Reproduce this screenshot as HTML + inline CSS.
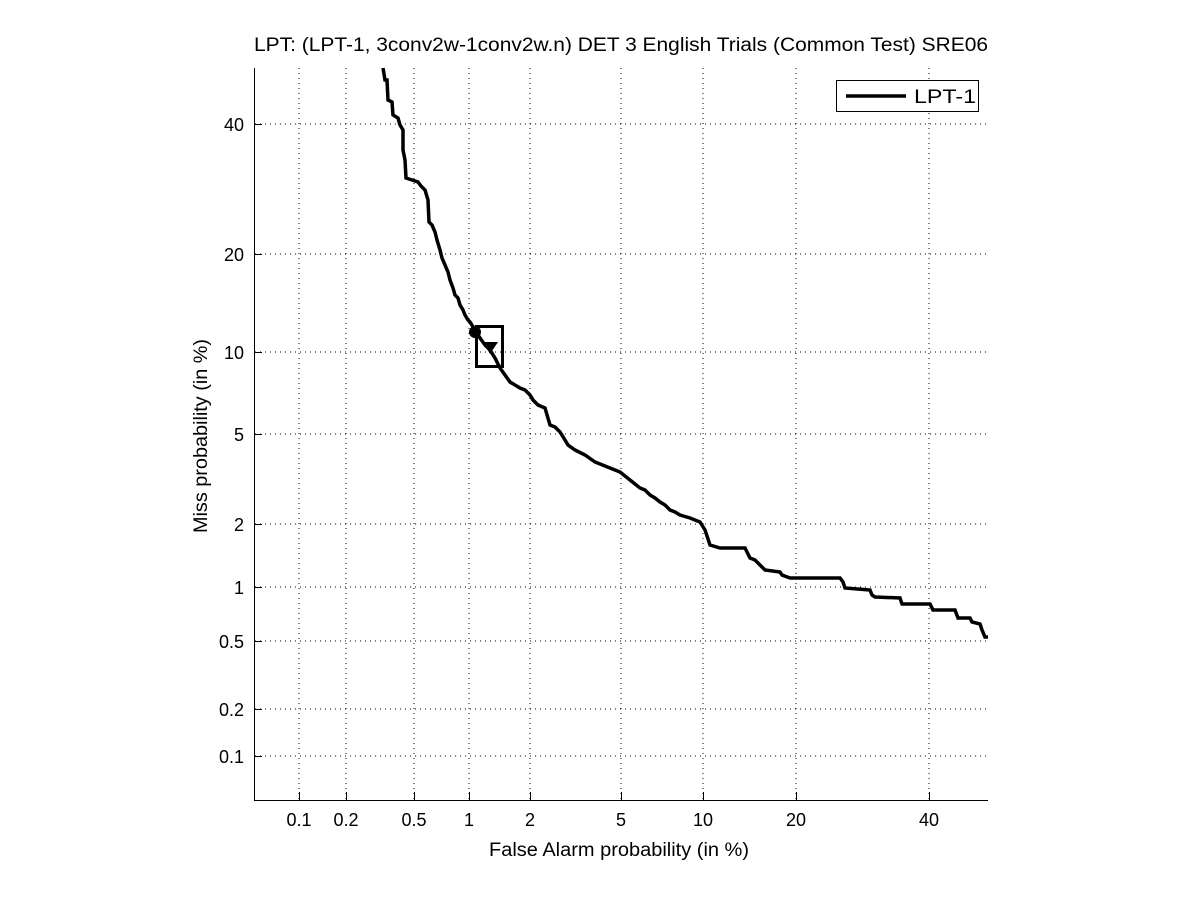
<!DOCTYPE html>
<html><head><meta charset="utf-8"><style>body{margin:0;background:#fff}svg{display:block}text{font-family:"Liberation Sans",sans-serif;fill:#000}</style></head>
<body>
<svg width="1201" height="900" viewBox="0 0 1201 900">
<rect width="1201" height="900" fill="#fff"/>
<g stroke="#000" stroke-width="1" stroke-dasharray="1,4">
<line x1="299" y1="68" x2="299" y2="800"/><line x1="346" y1="68" x2="346" y2="800"/><line x1="414" y1="68" x2="414" y2="800"/><line x1="469" y1="68" x2="469" y2="800"/><line x1="530" y1="68" x2="530" y2="800"/><line x1="621" y1="68" x2="621" y2="800"/><line x1="703" y1="68" x2="703" y2="800"/><line x1="796" y1="68" x2="796" y2="800"/><line x1="929" y1="68" x2="929" y2="800"/>
<line x1="255" y1="124" x2="988" y2="124"/><line x1="255" y1="254" x2="988" y2="254"/><line x1="255" y1="352" x2="988" y2="352"/><line x1="255" y1="434" x2="988" y2="434"/><line x1="255" y1="524" x2="988" y2="524"/><line x1="255" y1="587" x2="988" y2="587"/><line x1="255" y1="641" x2="988" y2="641"/><line x1="255" y1="709" x2="988" y2="709"/><line x1="255" y1="756" x2="988" y2="756"/>
</g>
<g stroke="#000" stroke-width="1">
<line x1="254.5" y1="68" x2="254.5" y2="800.5"/><line x1="254" y1="800.5" x2="988" y2="800.5"/>
<line x1="254" y1="124.5" x2="262" y2="124.5"/><line x1="254" y1="254.5" x2="262" y2="254.5"/><line x1="254" y1="352.5" x2="262" y2="352.5"/><line x1="254" y1="434.5" x2="262" y2="434.5"/><line x1="254" y1="524.5" x2="262" y2="524.5"/><line x1="254" y1="587.5" x2="262" y2="587.5"/><line x1="254" y1="641.5" x2="262" y2="641.5"/><line x1="254" y1="709.5" x2="262" y2="709.5"/><line x1="254" y1="756.5" x2="262" y2="756.5"/>
<line x1="299.5" y1="800" x2="299.5" y2="792"/><line x1="346.5" y1="800" x2="346.5" y2="792"/><line x1="414.5" y1="800" x2="414.5" y2="792"/><line x1="469.5" y1="800" x2="469.5" y2="792"/><line x1="530.5" y1="800" x2="530.5" y2="792"/><line x1="621.5" y1="800" x2="621.5" y2="792"/><line x1="703.5" y1="800" x2="703.5" y2="792"/><line x1="796.5" y1="800" x2="796.5" y2="792"/><line x1="929.5" y1="800" x2="929.5" y2="792"/>
</g>
<g font-size="18" text-anchor="end">
<text x="244" y="131">40</text><text x="244" y="261">20</text><text x="244" y="359">10</text><text x="244" y="441">5</text><text x="244" y="531">2</text><text x="244" y="594">1</text><text x="244" y="648">0.5</text><text x="244" y="716">0.2</text><text x="244" y="763">0.1</text>
</g>
<g font-size="18" text-anchor="middle">
<text x="299" y="826">0.1</text><text x="346" y="826">0.2</text><text x="414" y="826">0.5</text><text x="469" y="826">1</text><text x="530" y="826">2</text><text x="621" y="826">5</text><text x="703" y="826">10</text><text x="796" y="826">20</text><text x="929" y="826">40</text>
</g>
<text x="254" y="51" font-size="19" textLength="734" lengthAdjust="spacingAndGlyphs">LPT: (LPT-1, 3conv2w-1conv2w.n) DET 3 English Trials (Common Test) SRE06</text>
<text x="489" y="856" font-size="19" textLength="260" lengthAdjust="spacingAndGlyphs">False Alarm probability (in %)</text>
<text transform="translate(207,533) rotate(-90)" font-size="19" textLength="194" lengthAdjust="spacingAndGlyphs">Miss probability (in %)</text>
<polyline fill="none" stroke="#000" stroke-width="3.5" stroke-linejoin="miter" points="383,68 385,80 387,80 388,100 392,102 393,115 398,118 400,125 403,130 403,150 405,160 406,178 412,180 418,182 421,186 425,190 428,200 429,222 432,225 435,232 437,240 440,250 442,258 445,265 448,272 450,280 453,288 455,295 458,298 460,305 463,310 465,315 468,320 470,322 475,330 480,338 485,345 490,350 495,358 500,368 505,375 510,382 515,385 520,388 525,390 530,395 533,400 538,405 545,408 550,425 555,427 560,432 565,440 568,445 575,450 585,455 595,462 605,466 615,470 620,472 625,476 630,480 635,484 640,488 645,490 650,495 655,498 660,502 665,505 670,510 675,512 680,515 690,518 700,522 705,530 710,545 720,548 745,548 747,552 750,558 755,560 760,565 765,570 780,572 782,575 790,578 840,578 843,582 845,588 870,590 872,595 875,597 900,598 902,604 930,604 933,610 955,610 958,618 970,618 972,622 980,624 982,630 985,637 988,637"/>
<circle cx="475" cy="332" r="6" fill="#000"/>
<polygon points="483,342 498,342 490,354" fill="#000"/>
<rect x="476.5" y="326.5" width="26" height="40" fill="none" stroke="#000" stroke-width="3"/>
<rect x="836.5" y="80.5" width="142" height="31" fill="#fff" stroke="#000" stroke-width="1"/>
<line x1="846" y1="96" x2="906" y2="96" stroke="#000" stroke-width="3.5"/>
<text x="914" y="103" font-size="19" textLength="62" lengthAdjust="spacingAndGlyphs">LPT-1</text>
</svg>
</body></html>
